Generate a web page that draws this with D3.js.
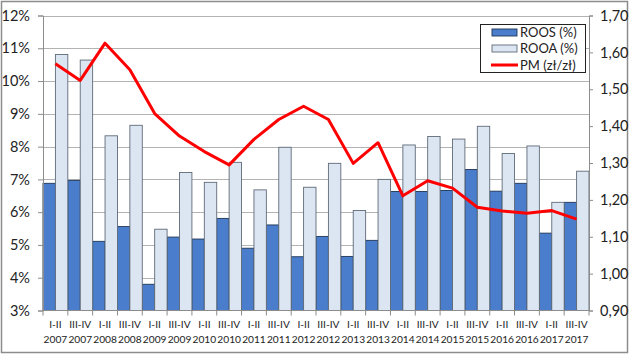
<!DOCTYPE html>
<html><head><meta charset="utf-8">
<script src="https://cdn.jsdelivr.net/npm/d3@7"></script>
<style>
html,body{margin:0;padding:0;background:#fff;}
svg{display:block;font-family:Lato,"Noto Sans",sans-serif;}
</style></head>
<body><svg id="c" width="630" height="355"></svg>
<script>
const periods = ["I-II","III-IV","I-II","III-IV","I-II","III-IV","I-II","III-IV","I-II","III-IV","I-II","III-IV","I-II","III-IV","I-II","III-IV","I-II","III-IV","I-II","III-IV","I-II","III-IV"];
const years = ["2007","2007","2008","2008","2009","2009","2010","2010","2011","2011","2012","2012","2013","2013","2014","2014","2015","2015","2016","2016","2017","2017"];
const roos = [6.88,6.97,5.11,5.56,3.80,5.24,5.18,5.81,4.90,5.61,4.64,5.26,4.65,5.14,6.63,6.63,6.66,7.30,6.64,6.88,5.36,6.30];
const rooa = [10.81,10.64,8.33,8.65,5.48,7.21,6.91,7.52,6.68,7.98,6.76,7.49,6.05,7.00,8.05,8.31,8.23,8.62,7.79,8.02,6.30,7.25];
const pm = [1.569,1.524,1.625,1.553,1.434,1.373,1.331,1.295,1.364,1.418,1.454,1.418,1.299,1.355,1.211,1.252,1.232,1.180,1.170,1.164,1.171,1.148];
const leftTicks = [3,4,5,6,7,8,9,10,11,12];
const rightTicks = [0.9,1.0,1.1,1.2,1.3,1.4,1.5,1.6,1.7];
const seriesNames = ["ROOS (%)","ROOA (%)","PM (zł/zł)"];

const svg = d3.select("#c");
const L = 43, R = 589, T = 15.5, B = 310.5;
const idx = d3.range(periods.length);
const x = d3.scaleBand().domain(idx).range([L, R]).padding(0);
const xs = d3.scaleBand().domain([0,1]).range([0, x.bandwidth()]).padding(0);
const yL = d3.scaleLinear().domain([3,12]).range([B, T]);
const yR = d3.scaleLinear().domain([0.9,1.7]).range([B, T]);

// outer border
svg.append("rect").attr("x",1.5).attr("y",1.5).attr("width",626).attr("height",351)
  .attr("fill","#fff").attr("stroke","#8c8c8c").attr("stroke-width",1.5);

// gridlines
svg.append("g").selectAll("line").data(leftTicks.slice(1)).join("line")
  .attr("x1",L).attr("x2",R).attr("y1",d=>Math.round(yL(d))+0.5).attr("y2",d=>Math.round(yL(d))+0.5)
  .attr("stroke","#b3b3b3").attr("stroke-width",1);

// bars
const g = svg.append("g");
g.selectAll("rect.roos").data(roos).join("rect").attr("class","roos")
  .attr("x",(d,i)=>x(i)+xs(0)).attr("width",xs.bandwidth())
  .attr("y",d=>yL(d)).attr("height",d=>B-yL(d))
  .attr("fill","#4a7ecd").attr("stroke","#1f3553").attr("stroke-width",0.9);
g.selectAll("rect.rooa").data(rooa).join("rect").attr("class","rooa")
  .attr("x",(d,i)=>x(i)+xs(1)).attr("width",xs.bandwidth())
  .attr("y",d=>yL(d)).attr("height",d=>B-yL(d))
  .attr("fill","#dce6f2").attr("stroke","#5f6b78").attr("stroke-width",0.9);

// axes
const axL = d3.axisLeft(yL).tickValues(leftTicks).tickSize(5).tickFormat(d=>d+"%");
const gl = svg.append("g").attr("transform",`translate(${L},0)`).call(axL);
gl.select(".domain").attr("stroke","#8c8c8c");
gl.selectAll(".tick line").attr("stroke","#8c8c8c");
gl.selectAll("text").attr("font-size",14.5).attr("fill","#222").attr("x",-13).attr("font-family","Lato,'Noto Sans',sans-serif");

const axR = d3.axisRight(yR).tickValues(rightTicks).tickSize(4).tickFormat(d=>d3.format(".2f")(d).replace(".",","));
const gr = svg.append("g").attr("transform",`translate(${R},0)`).call(axR);
gr.select(".domain").attr("stroke","#8c8c8c");
gr.selectAll(".tick line").attr("stroke","#8c8c8c");
gr.selectAll("text").attr("font-size",14.5).attr("fill","#222").attr("x",11).attr("font-family","Lato,'Noto Sans',sans-serif");

// x axis
const gx = svg.append("g").attr("transform",`translate(0,${B})`);
gx.append("line").attr("x1",L).attr("x2",R).attr("stroke","#8c8c8c");
gx.selectAll("line.tk").data(d3.range(periods.length+1)).join("line").attr("class","tk")
  .attr("x1",d=>L+d*x.step()).attr("x2",d=>L+d*x.step()).attr("y1",0).attr("y2",5).attr("stroke","#8c8c8c");
const lbl = gx.selectAll("text").data(idx).join("text")
  .attr("x",i=>x(i)+x.bandwidth()/2).attr("text-anchor","middle")
  .attr("font-size",10.2).attr("fill","#222");
lbl.append("tspan").attr("x",i=>x(i)+x.bandwidth()/2).attr("y",17.5).text(i=>periods[i]);
lbl.append("tspan").attr("x",i=>x(i)+x.bandwidth()/2).attr("y",32.5).text(i=>years[i]);

// PM line
svg.append("path").datum(pm)
  .attr("d",d3.line().x((d,i)=>x(i)+x.bandwidth()/2).y(d=>yR(d)))
  .attr("fill","none").attr("stroke","#ff0000").attr("stroke-width",3).attr("stroke-linejoin","round");

// legend
const lg = svg.append("g");
lg.append("rect").attr("x",480.5).attr("y",24.5).attr("width",105).attr("height",48)
  .attr("fill","#fff").attr("stroke","#222").attr("stroke-width",1);
const ly = [32.5,48.5,65];
lg.append("rect").attr("x",492).attr("y",ly[0]-3.5).attr("width",25).attr("height",7)
  .attr("fill","#4a7ecd").attr("stroke","#1f3553").attr("stroke-width",0.9);
lg.append("rect").attr("x",492).attr("y",ly[1]-3.5).attr("width",25).attr("height",7)
  .attr("fill","#dce6f2").attr("stroke","#5f6b78").attr("stroke-width",0.9);
lg.append("line").attr("x1",491).attr("x2",518).attr("y1",ly[2]).attr("y2",ly[2])
  .attr("stroke","#ff0000").attr("stroke-width",3);
lg.selectAll("text").data(seriesNames).join("text")
  .attr("x",520).attr("y",(d,i)=>ly[i]).attr("dy","0.35em")
  .attr("font-size",13).attr("fill","#222").text(d=>d);
</script></body></html>
